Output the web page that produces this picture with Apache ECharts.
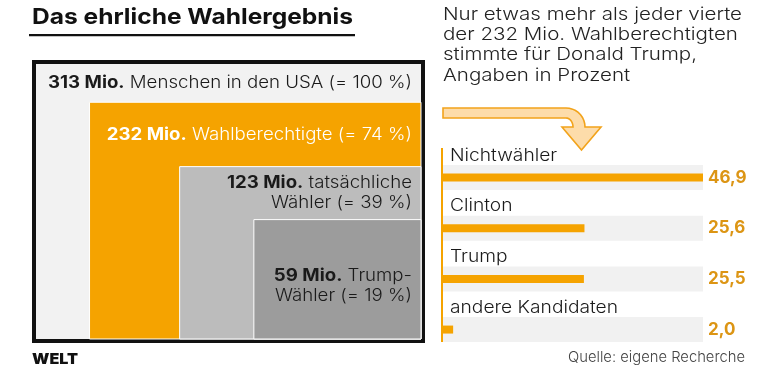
<!DOCTYPE html>
<html><head><meta charset="utf-8">
<script src="https://cdn.jsdelivr.net/npm/echarts@6/dist/echarts.min.js"></script>
<style>html,body{margin:0;padding:0;background:#fff}#c{width:780px;height:373px}</style>
</head><body><div id="c"></div>
<script>
// Left: population groups (Mio.)
const groupValues = [313, 232, 123, 59];
const groupBold = ['313 Mio.', '232 Mio.', '123 Mio.', '59 Mio.'];
const groupText = [
  [' Menschen in den USA (= 100 %)'],
  [' Wahlberechtigte (= 74 %)'],
  [' tatsächliche', 'Wähler (= 39 %)'],
  [' Trump-', 'Wähler (= 19 %)']
];
// Right: share of eligible voters (%)
const categories = ['Nichtwähler', 'Clinton', 'Trump', 'andere Kandidaten'];
const values = [46.9, 25.6, 25.5, 2.0];
const subtitleLines = ['Nur etwas mehr als jeder vierte', 'der 232 Mio. Wahlberechtigten', 'stimmte für Donald Trump,', 'Angaben in Prozent'];

const FF = 'Inter';
const ORANGE = '#f5a300';
const rectFill = ['#f2f2f2', ORANGE, '#bcbcbc', '#9c9c9c'];
const textFill = ['#1a1a1a', '#ffffff', '#1a1a1a', '#1a1a1a'];
const total = groupValues[0];
const xMax = Math.max(...values);
const fmt = v => v.toFixed(1).replace('.', ',');

// text width helper for horizontal fitting of the wide reference typeface
const mctx = document.createElement('canvas').getContext('2d');
const tw = (font, t) => { mctx.font = font; return mctx.measureText(t).width; };
const sTitle = 321 / tw('bold 22px ' + FF, 'Das ehrliche Wahlergebnis');
const sSub = 299 / tw('300 17.5px ' + FF, subtitleLines[0]);
const sRect = 364 / (tw('bold 17px ' + FF, groupBold[0]) + tw('300 17px ' + FF, groupText[0][0]));
const sCat = 168 / tw('300 17px ' + FF, 'andere Kandidaten');
const sSrc = 177 / tw('300 15px ' + FF, 'Quelle: eigene Recherche');
const sLogo = 46 / tw('900 15px ' + FF, 'WELT');

const chart = echarts.init(document.getElementById('c'), null, {renderer: 'canvas'});

function renderRect(params, api) {
  const i = params.dataIndex;
  const s = Math.sqrt(api.value(0) / total);
  const p0 = api.coord([1 - s, s]);
  const p1 = api.coord([1, 0]);
  let cy;
  if (i < groupValues.length - 1) {
    const s2 = Math.sqrt(groupValues[i + 1] / total);
    cy = (p0[1] + api.coord([1, s2])[1]) / 2;
  } else {
    cy = (p0[1] + p1[1]) / 2 + 7;
  }
  const lines = groupText[i];
  let txt = '{b|' + groupBold[i] + '}{r|' + lines[0] + '}';
  for (let k = 1; k < lines.length; k++) txt += '\n{r|' + lines[k] + '}';
  const children = [];
  if (i === 0) {
    children.push({type: 'rect', shape: {x: p0[0] - 2, y: p0[1] - 2, width: p1[0] - p0[0] + 4, height: p1[1] - p0[1] + 4},
      style: {fill: rectFill[i], stroke: '#111', lineWidth: 4}});
  } else {
    children.push({type: 'rect', shape: {x: p0[0], y: p0[1], width: p1[0] - p0[0], height: p1[1] - p0[1]},
      style: {fill: rectFill[i], stroke: '#ffffff', lineWidth: 1}});
  }
  children.push({type: 'text', x: p1[0] - 9, y: cy, scaleX: sRect, style: {
    text: txt, align: 'right', verticalAlign: 'middle',
    rich: {
      b: {fontFamily: FF, fontSize: 17, fontWeight: 'bold', fill: textFill[i], lineHeight: 20, align: 'right'},
      r: {fontFamily: FF, fontSize: 17, fontWeight: 300, fill: textFill[i], lineHeight: 20, align: 'right'}
    }
  }});
  return {type: 'group', children};
}

function renderCat(params, api) {
  const p = api.coord([0, api.value(0)]);
  return {type: 'text', x: p[0] + 8, y: p[1] - 12.5 - 9.5, scaleX: sCat, z2: 10,
    style: {text: categories[params.dataIndex], fontFamily: FF, fontSize: 17, fontWeight: 300,
      fill: '#1a1a1a', align: 'left', verticalAlign: 'middle'}};
}

// decorative arrow outline
const arrowPts = [[443, 108]];
for (let a = -90; a <= 0; a += 10) { const r = a * Math.PI / 180; arrowPts.push([566 + 19 * Math.cos(r), 127 + 19 * Math.sin(r)]); }
arrowPts.push([601, 127], [581.5, 150], [562, 127], [573, 127]);
for (let a = 0; a >= -90; a -= 10) { const r = a * Math.PI / 180; arrowPts.push([566 + 7 * Math.cos(r), 127 + 9 * Math.sin(r)]); }
arrowPts.push([443, 118]);

const graphics = [
  {type: 'text', x: 32, y: 17, scaleX: sTitle, style: {text: 'Das ehrliche Wahlergebnis', font: 'bold 22px ' + FF, fill: '#111', verticalAlign: 'middle'}},
  {type: 'rect', shape: {x: 29, y: 34, width: 326, height: 2.2}, style: {fill: '#111'}},
  {type: 'polygon', shape: {points: arrowPts}, style: {fill: '#fddcaa', stroke: '#f2a31b', lineWidth: 1.6}},
  {type: 'line', z: 100, shape: {x1: 442, y1: 148, x2: 442, y2: 342}, style: {stroke: ORANGE, lineWidth: 2}},
  {type: 'text', x: 32, y: 359, scaleX: sLogo, style: {text: 'WELT', font: '900 15px ' + FF, fill: '#111', verticalAlign: 'middle'}},
  {type: 'text', x: 745, y: 357, scaleX: sSrc, style: {text: 'Quelle: eigene Recherche', font: '300 15px ' + FF, fill: '#444', align: 'right', verticalAlign: 'middle'}}
];
subtitleLines.forEach((t, k) => graphics.push({type: 'text', x: 443, y: 14.5 + 20.3 * k, scaleX: sSub,
  style: {text: t, font: '300 17.5px ' + FF, fill: '#222', verticalAlign: 'middle'}}));

chart.setOption({
  animation: false,
  textStyle: {fontFamily: FF},
  grid: [
    {left: 442, right: 77, top: 152.2, bottom: 18.1},
    {left: 36, top: 64, width: 385, height: 275}
  ],
  xAxis: [
    {gridIndex: 0, type: 'value', min: 0, max: xMax, show: false},
    {gridIndex: 1, type: 'value', min: 0, max: 1, show: false}
  ],
  yAxis: [
    {gridIndex: 0, type: 'category', data: categories, inverse: true, show: false},
    {gridIndex: 0, type: 'category', data: categories, inverse: true, position: 'right',
      axisLine: {show: false}, axisTick: {show: false}, splitLine: {show: false},
      axisLabel: {margin: 5, align: 'left', color: '#dc9514', fontSize: 17, fontWeight: 'bold', fontFamily: FF,
        formatter: (v, idx) => fmt(values[idx])}},
    {gridIndex: 1, type: 'value', min: 0, max: 1, show: false}
  ],
  series: [
    {type: 'custom', xAxisIndex: 1, yAxisIndex: 2, data: groupValues.map(v => [v]), renderItem: renderRect, silent: true},
    {type: 'bar', name: 'band', xAxisIndex: 0, yAxisIndex: 0, barWidth: 25, silent: true,
      data: categories.map(() => xMax), itemStyle: {color: '#f1f1f1'}},
    {type: 'bar', name: 'Anteil', xAxisIndex: 0, yAxisIndex: 1, barWidth: 8, silent: true,
      data: values, itemStyle: {color: ORANGE}},
    {type: 'custom', name: 'labels', xAxisIndex: 0, yAxisIndex: 0, data: categories.map((c, i) => [i]),
      renderItem: renderCat, silent: true, z: 5}
  ],
  graphic: graphics
});
</script></body></html>
